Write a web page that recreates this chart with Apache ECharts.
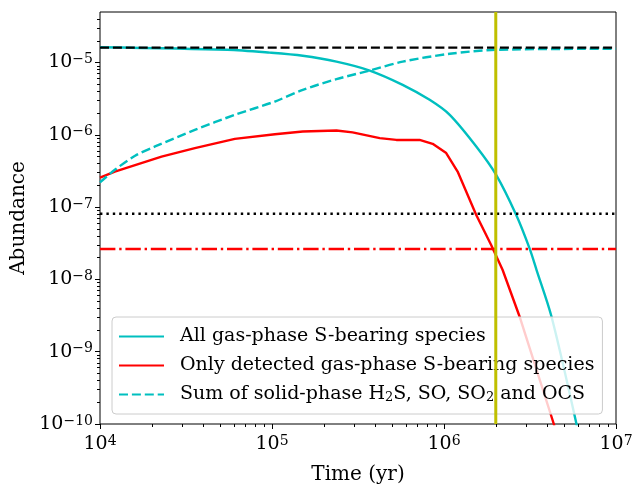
<!DOCTYPE html>
<html>
<head>
<meta charset="utf-8">
<script src="https://cdn.jsdelivr.net/npm/echarts@6/dist/echarts.min.js"></script>
<style>
  html, body { margin: 0; padding: 0; background: #fff; }
  #chart { width: 633px; height: 488px; }
</style>
</head>
<body>
<div id="chart"></div>
<script>
// Total gas-phase sulphur carried by all S-bearing species (yr, abundance)
const timeGasAll = [1e4, 5.5e4, 9.7e4, 1.51e5, 2.37e5, 3.7e5, 5.75e5, 8.25e5, 1.08e6,
                    1.54e6, 2.01e6, 2.63e6, 3.14e6, 3.45e6, 4.22e6, 5.89e6, 6.6e6];
const gasAll = [1.63e-5, 1.5e-5, 1.37e-5, 1.24e-5, 1.03e-5, 7.75e-6, 4.92e-6, 3.05e-6, 1.89e-6,
                6.9e-7, 2.8e-7, 7.8e-8, 2.71e-8, 1.36e-8, 3.04e-9, 1.0e-10, 2.5e-11];

// Only the species that are actually detected in the gas phase
const timeGasDetected = [1e4, 1.22e4, 2.28e4, 3.56e4, 6.08e4, 1.04e5, 1.51e5, 2.37e5, 2.94e5,
                         4.23e5, 5.28e5, 7.21e5, 8.59e5, 1.03e6, 1.2e6, 1.54e6, 1.88e6,
                         2.19e6, 2.75e6, 4.35e6, 4.7e6];
const gasDetected = [2.55e-7, 3.1e-7, 5.0e-7, 6.55e-7, 8.8e-7, 1.02e-6, 1.11e-6, 1.15e-6, 1.08e-6,
                     9.0e-7, 8.5e-7, 8.5e-7, 7.5e-7, 5.6e-7, 3.1e-7, 7.8e-8, 3.0e-8,
                     1.36e-8, 3.07e-9, 1.0e-10, 4.5e-11];

// Ices: H2S + SO + SO2 + OCS in the solid phase
const timeIceSum = [1e4, 1.22e4, 1.6e4, 2.09e4, 3.56e4, 6.08e4, 1.04e5, 1.51e5, 2.37e5,
                    3.7e5, 5.75e5, 1.08e6, 2.0e6, 1e7];
const iceSum = [2.2e-7, 3.28e-7, 5.13e-7, 6.9e-7, 1.17e-6, 1.89e-6, 2.89e-6, 4.19e-6, 5.89e-6,
                7.75e-6, 1.03e-5, 1.32e-5, 1.5e-5, 1.55e-5];

// Reference levels
const sulfurTotal = 1.61e-5;     // cosmic sulphur abundance
const upperLimitA = 8.1e-8;      // black dotted
const upperLimitB = 2.63e-8;     // red dash-dot
const markTime = 2.0e6;          // yellow vertical marker

// Axis ranges and decade ticks
const xRange = [1e4, 1e7];
const yRange = [1e-10, 5e-5];
const xDecades = [4, 5, 6, 7];
const yDecades = [-10, -9, -8, -7, -6, -5];

const SERIF = '"DejaVu Serif", serif';
const CYAN = '#00bfbf', RED = '#ff0000', YELLOW = '#bfbf00';
const LW = 2.4;

const pairs = (xs, ys) => xs.map((x, i) => [x, ys[i]]);
const hline = (v) => [[xRange[0], v], [xRange[1], v]];

// log-position minor ticks (2..9 within each decade), expressed as exponents
function minorTicks(lo, hi) {
  const out = [];
  for (let d = Math.floor(lo); d < hi; d++) {
    for (let k = 2; k <= 9; k++) {
      const e = d + Math.log10(k);
      if (e > lo && e < hi) out.push(e);
    }
  }
  return out;
}

const xLo = Math.log10(xRange[0]), xHi = Math.log10(xRange[1]);
const yLo = Math.log10(yRange[0]), yHi = Math.log10(yRange[1]);

const powLabel = (v) => {
  const n = Math.round(v);
  return '{b|10}{s|' + (n < 0 ? '\u2212' + (-n) : n) + '}';
};
const tickRich = {
  b: { fontFamily: SERIF, fontSize: 19, lineHeight: 20, color: '#000' },
  s: { fontFamily: SERIF, fontSize: 14, lineHeight: 10, verticalAlign: 'top', color: '#000' }
};

const names = [
  'All gas-phase S-bearing species',
  'Only detected gas-phase S-bearing species',
  'Sum of solid-phase H\u2082S, SO, SO\u2082 and OCS'
];

const chart = echarts.init(document.getElementById('chart'), null, { renderer: 'canvas' });

chart.setOption({
  animation: false,
  backgroundColor: '#fff',
  grid: {
    left: 100, right: 17, top: 12, bottom: 64,
    outerBoundsMode: 'none', containLabel: false,
    show: true, borderColor: '#000', borderWidth: 1, backgroundColor: 'transparent'
  },
  xAxis: [
    { type: 'log', logBase: 10, min: xRange[0], max: xRange[1], show: false },
    {
      type: 'value', min: xLo, max: xHi, position: 'bottom',
      axisLine: { show: false }, splitLine: { show: false },
      axisTick: { show: true, customValues: xDecades, length: 5, lineStyle: { color: '#000', width: 1 } },
      axisLabel: { customValues: xDecades, formatter: powLabel, margin: 10, rich: tickRich },
      name: 'Time (yr)', nameLocation: 'middle', nameGap: 41,
      nameTextStyle: { fontFamily: SERIF, fontSize: 20, color: '#000' }
    },
    {
      type: 'value', min: xLo, max: xHi, position: 'bottom',
      axisLine: { show: false }, splitLine: { show: false }, axisLabel: { show: false },
      axisTick: { show: true, customValues: minorTicks(xLo, xHi), length: 3, lineStyle: { color: '#000', width: 1 } }
    }
  ],
  yAxis: [
    { type: 'log', logBase: 10, min: yRange[0], max: yRange[1], show: false },
    {
      type: 'value', min: yLo, max: yHi, position: 'left',
      axisLine: { show: false }, splitLine: { show: false },
      axisTick: { show: true, customValues: yDecades, length: 5, lineStyle: { color: '#000', width: 1 } },
      axisLabel: { customValues: yDecades, formatter: powLabel, margin: 7, rich: tickRich },
      name: 'Abundance', nameLocation: 'middle', nameGap: 65, nameRotate: 90,
      nameTextStyle: { fontFamily: SERIF, fontSize: 20, color: '#000' }
    },
    {
      type: 'value', min: yLo, max: yHi, position: 'left',
      axisLine: { show: false }, splitLine: { show: false }, axisLabel: { show: false },
      axisTick: { show: true, customValues: minorTicks(yLo, yHi), length: 3, lineStyle: { color: '#000', width: 1 } }
    }
  ],
  legend: {
    data: names,
    orient: 'vertical', left: 112, top: 317,
    itemWidth: 45, itemHeight: 14, itemGap: 10,
    padding: [10, 8, 10, 6],
    backgroundColor: 'rgba(255,255,255,0.8)',
    borderColor: '#cccccc', borderWidth: 1, borderRadius: 4,
    itemStyle: { opacity: 0 },
    textStyle: {
      fontFamily: SERIF, fontSize: 19, color: '#000', padding: [0, 0, 0, 11],
      rich: {
        sub: { fontFamily: SERIF, fontSize: 13, color: '#000', verticalAlign: 'bottom', lineHeight: 14 }
      }
    },
    formatter: (name) => name.replace(/\u2082/g, '{sub|2}')
  },
  series: [
    {
      name: names[0], type: 'line', data: pairs(timeGasAll, gasAll),
      symbol: 'none', smooth: 0.3, z: 3,
      lineStyle: { color: CYAN, width: LW }, itemStyle: { color: CYAN }
    },
    {
      name: names[1], type: 'line', data: pairs(timeGasDetected, gasDetected),
      symbol: 'none', z: 3,
      lineStyle: { color: RED, width: LW }, itemStyle: { color: RED }
    },
    {
      name: names[2], type: 'line', data: pairs(timeIceSum, iceSum),
      symbol: 'none', smooth: 0.3, z: 3,
      lineStyle: { color: CYAN, width: LW, type: [9, 3.9] }, itemStyle: { color: CYAN }
    },
    {
      type: 'line', data: hline(sulfurTotal), symbol: 'none', z: 4,
      lineStyle: { color: '#000', width: LW, type: [9, 3.9] }
    },
    {
      type: 'line', data: hline(upperLimitA), symbol: 'none', z: 4,
      lineStyle: { color: '#000', width: LW, type: [2.4, 4] }
    },
    {
      type: 'line', data: hline(upperLimitB), symbol: 'none', z: 4,
      lineStyle: { color: RED, width: LW, type: [15.4, 3.8, 2.4, 3.8] }
    },
    {
      type: 'line', data: [[markTime, yRange[0]], [markTime, yRange[1]]], symbol: 'none', z: 4,
      lineStyle: { color: YELLOW, width: 3 }
    }
  ]
});
</script>
</body>
</html>
